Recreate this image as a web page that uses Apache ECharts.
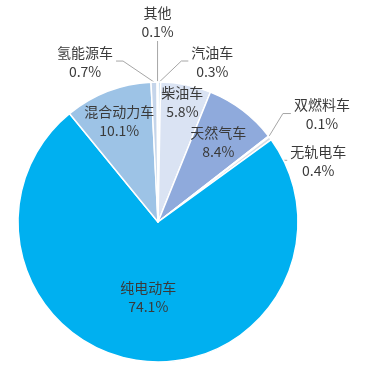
<!DOCTYPE html>
<html><head><meta charset="utf-8">
<script src="https://cdn.jsdelivr.net/npm/echarts@6/dist/echarts.min.js"></script>
<style>html,body{margin:0;padding:0;background:#fff}#c{width:386px;height:370px}</style>
</head><body><div id="c"></div>
<script>
// Data (clockwise from 12 o'clock)
const categories = ['汽油车','柴油车','天然气车','双燃料车','无轨电车','纯电动车','混合动力车','氢能源车','其他'];
const shares = [0.3, 5.8, 8.4, 0.1, 0.4, 74.1, 10.1, 0.7, 0.1];

// Styles
const colors = ['#BDD7EE','#DAE3F3','#8FAADC','#DEEBF7','#D6DCE5','#00B0F0','#9DC3E6','#C5D5EA','#7FA7D6'];
// labels placed inside the slice, anchored at this distance from the centre
const innerLabelRadius = {'柴油车':122, '天然气车':100, '混合动力车':108, '纯电动车':76};
// leader line offsets relative to the slice edge point
const leaders = {
  '其他':   {elbow:[0,-41],  end:[0,-41],  side:'top'},
  '汽油车': {elbow:[22,-21], end:[29,-21], side:'right'},
  '氢能源车': {elbow:[-31,-21], end:[-38,-21], side:'left'},
  '双燃料车': {elbow:[14,-23], end:[22,-23], side:'right'},
  '无轨电车': {elbow:[10,22], end:[17,22], side:'right'}
};

const CENTER = [158, 222];
const R = 140;
const FONT = {fontFamily:'"Noto Sans CJK SC", "Noto Sans", sans-serif', fontSize:14, lineHeight:19, color:'#3a3a3a', textBorderWidth:0};
const fmt = p => p.name + '\n' + Number(p.value).toFixed(1) + '%';

const mainSeries = {
  type: 'pie',
  center: CENTER,
  radius: R,
  startAngle: 90,
  clockwise: true,
  avoidLabelOverlap: false,
  silent: true,
  itemStyle: {borderColor:'#ffffff', borderWidth:1.5},
  data: categories.map((n,i) => ({
    name: n, value: shares[i],
    itemStyle: {color: colors[i]},
    label: {show: !!leaders[n]},
    labelLine: {show: !!leaders[n]}
  })),
  label: Object.assign({position:'outside', formatter: fmt, align:'center'}, FONT),
  labelLine: {show:true, length:10, length2:8, lineStyle:{color:'#A6A6A6', width:1}},
  labelLayout: function (p) {
    const o = leaders[categories[p.dataIndex]];
    if (!o || !p.labelLinePoints) return {};
    const s = p.labelLinePoints[0];
    const e = [s[0] + o.elbow[0], s[1] + o.elbow[1]];
    const t = [s[0] + o.end[0], s[1] + o.end[1]];
    const w = p.labelRect.width;
    let x, y, va = 'middle';
    if (o.side === 'top') { x = t[0]; y = t[1]; va = 'bottom'; }
    else if (o.side === 'right') { x = t[0] + 3 + w / 2; y = t[1] + 1; }
    else { x = t[0] - 3 - w / 2; y = t[1] + 1; }
    return {x: x, y: y, align: 'center', verticalAlign: va, labelLinePoints: [s, e, t]};
  }
};

// invisible pies of smaller radius, used only to anchor the in-slice labels
const labelSeries = Object.keys(innerLabelRadius).map(name => ({
  type: 'pie',
  center: CENTER,
  radius: innerLabelRadius[name],
  startAngle: 90,
  clockwise: true,
  silent: true,
  avoidLabelOverlap: false,
  itemStyle: {color:'rgba(0,0,0,0)', borderWidth:0},
  data: categories.map((n,i) => ({
    name: n, value: shares[i],
    label: {show: n === name},
    labelLine: {show: n === name}
  })),
  label: Object.assign({position:'outside', formatter: fmt, align:'center'}, FONT),
  labelLine: {length:0, length2:0, lineStyle:{color:'rgba(0,0,0,0)', width:0}},
  labelLayout: function (p) {
    if (!p.labelLinePoints) return {};
    const s = p.labelLinePoints[0];
    return {x: s[0], y: s[1], align: 'center', verticalAlign: 'middle'};
  }
}));

const chart = echarts.init(document.getElementById('c'), null, {renderer:'canvas'});
chart.setOption({
  animation: false,
  backgroundColor: '#ffffff',
  series: [mainSeries].concat(labelSeries)
});
</script>
</body></html>
